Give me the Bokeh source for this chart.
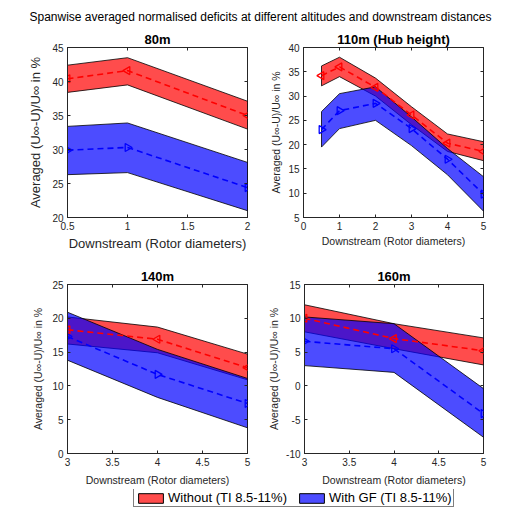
import math
from bokeh.plotting import figure
from bokeh.layouts import column, row
from bokeh.models import (Range1d, FixedTicker, NumeralTickFormatter, Legend, LegendItem,
                          LinearAxis, CustomJSTickFormatter)
from bokeh.core.properties import value
from bokeh.embed import file_html
from bokeh.resources import INLINE

FONT = "Liberation Sans"
AX = "#262626"

main_title = "Spanwise averaged normalised deficits at different altitudes and downstream distances"
x_label = "Downstream (Rotor diameters)"
y_label = "Averaged (U\u221e-U)/U\u221e in %"
legend_labels = ["Without (TI 8.5-11%)", "With GF (TI 8.5-11%)"]

# 80m
x_80 = [0.5, 1.0, 2.0]
red_mean_80 = [40.4, 41.6, 35.0]
red_up_80 = [42.4, 43.5, 37.1]
red_lo_80 = [38.4, 39.5, 33.0]
blue_mean_80 = [29.9, 30.3, 24.4]
blue_up_80 = [33.4, 33.9, 28.1]
blue_lo_80 = [26.3, 26.6, 21.0]

# 110m (hub height)
x_110 = [0.5, 1.0, 2.0, 3.0, 4.0, 5.0]
red_mean_110 = [34.2, 36.0, 31.8, 26.1, 20.3, 18.6]
red_up_110 = [36.2, 38.0, 33.7, 27.8, 22.2, 20.6]
red_lo_110 = [32.1, 34.0, 30.0, 24.1, 18.6, 16.7]
blue_mean_110 = [23.1, 27.0, 28.5, 23.3, 17.0, 9.8]
blue_up_110 = [26.8, 30.5, 31.9, 25.7, 19.2, 13.4]
blue_lo_110 = [19.5, 23.3, 25.0, 19.8, 13.8, 6.3]

# 140m
x_140 = [3.0, 4.0, 5.0]
red_mean_140 = [18.3, 16.9, 12.7]
red_up_140 = [20.2, 18.7, 14.7]
red_lo_140 = [16.2, 14.9, 10.9]
blue_mean_140 = [17.3, 11.7, 7.4]
blue_up_140 = [20.9, 15.4, 11.1]
blue_lo_140 = [13.8, 8.3, 3.8]

# 160m
x_160 = [3.0, 4.0, 5.0]
red_mean_160 = [10.0, 7.0, 5.2]
red_up_160 = [12.0, 9.2, 7.1]
red_lo_160 = [8.0, 5.5, 3.1]
blue_mean_160 = [6.6, 5.5, -4.1]
blue_up_160 = [10.2, 9.2, -0.4]
blue_lo_160 = [3.0, 2.0, -7.6]

ticks_80_x = [0.5, 1, 1.5, 2]
ticks_80_y = [20, 25, 30, 35, 40, 45]
ticks_110_x = [0, 1, 2, 3, 4, 5]
ticks_110_y = [5, 10, 15, 20, 25, 30, 35, 40]
ticks_140_x = [3, 3.5, 4, 4.5, 5]
ticks_140_y = [0, 5, 10, 15, 20, 25]
ticks_160_x = [3, 3.5, 4, 4.5, 5]
ticks_160_y = [-10, -5, 0, 5, 10, 15]


def style_axis(ax, lab_size):
    ax.major_tick_in = 3
    ax.major_tick_out = 0
    ax.minor_tick_in = 0
    ax.minor_tick_out = 0
    ax.axis_line_color = AX
    ax.major_tick_line_color = AX
    ax.major_label_text_font = FONT
    ax.major_label_text_font_size = "10px"
    ax.major_label_text_color = AX
    ax.axis_label_text_font = FONT
    ax.axis_label_text_font_style = "normal"
    ax.axis_label_text_font_size = lab_size
    ax.axis_label_text_color = AX
    ax.formatter = NumeralTickFormatter(format="0.[0]")


def mirror_axis(p, ticks, place):
    ax = LinearAxis(ticker=FixedTicker(ticks=ticks),
                    formatter=CustomJSTickFormatter(code="return ''"))
    ax.major_tick_in = 3
    ax.major_tick_out = 0
    ax.minor_tick_in = 0
    ax.minor_tick_out = 0
    ax.axis_line_color = None
    ax.major_tick_line_color = AX
    ax.major_label_standoff = 0
    ax.major_label_text_font_size = "1px"
    ax.axis_label = None
    p.add_layout(ax, place)


def panel(title, x, rm, ru, rl, bm, bu, bl, xlim, ylim, xt, yt, w, h,
          bleft, bright, btop, bbot, lab_size, xls, yls):
    p = figure(width=w, height=h, x_range=Range1d(*xlim), y_range=Range1d(*ylim),
               output_backend="svg", toolbar_location=None, title=title,
               min_border_left=bleft, min_border_right=bright,
               min_border_top=btop, min_border_bottom=bbot)
    p.title.align = "center"
    p.title.text_font = FONT
    p.title.text_font_size = "13px"
    p.title.text_font_style = "bold"
    p.title.text_color = "black"
    p.title.standoff = 1
    p.xgrid.visible = False
    p.ygrid.visible = False
    p.outline_line_color = AX
    p.outline_line_width = 1
    p.outline_line_alpha = 1
    style_axis(p.xaxis[0], lab_size)
    style_axis(p.yaxis[0], lab_size)
    p.xaxis[0].ticker = FixedTicker(ticks=xt)
    p.yaxis[0].ticker = FixedTicker(ticks=yt)
    p.xaxis[0].axis_label = x_label
    p.yaxis[0].axis_label = y_label
    p.xaxis[0].major_label_standoff = 4
    p.yaxis[0].major_label_standoff = 4
    p.xaxis[0].axis_label_standoff = xls
    p.yaxis[0].axis_label_standoff = yls
    mirror_axis(p, xt, "above")
    mirror_axis(p, yt, "right")

    p.patch(x + x[::-1], ru + rl[::-1], fill_color="#FF0000", fill_alpha=0.7,
            line_color="black", line_width=0.8)
    p.patch(x + x[::-1], bu + bl[::-1], fill_color="#0000FF", fill_alpha=0.7,
            line_color="black", line_width=0.8)
    p.line(x, rm, line_color="#FF0000", line_dash="6 4", line_width=1.6)
    p.scatter(x, rm, marker="triangle", angle=math.pi / 2, size=8,
              fill_alpha=0, line_color="#FF0000", line_width=1.3)
    p.line(x, bm, line_color="#0000FF", line_dash="6 4", line_width=1.6)
    p.scatter(x, bm, marker="triangle", angle=-math.pi / 2, size=8,
              fill_alpha=0, line_color="#0000FF", line_width=1.3)
    return p


# title strip
tf = figure(width=520, height=28, x_range=Range1d(0, 1), y_range=Range1d(0, 28),
            output_backend="svg", toolbar_location=None, min_border=0)
tf.axis.visible = False
tf.grid.visible = False
tf.outline_line_color = None
tf.text(x=[0.5], y=[12], text=[main_title], text_align="center", text_baseline="middle",
        text_font=value(FONT), text_font_size="12px", text_color="black")

p1 = panel("80m", x_80, red_mean_80, red_up_80, red_lo_80, blue_mean_80, blue_up_80, blue_lo_80,
           (0.5, 2), (20, 45), ticks_80_x, ticks_80_y, 260, 232, 67, 13, 19, 43, "13px", 3, 6)
p2 = panel("110m (Hub height)", x_110, red_mean_110, red_up_110, red_lo_110, blue_mean_110,
           blue_up_110, blue_lo_110, (0, 5), (5, 40), ticks_110_x, ticks_110_y,
           260, 232, 43, 37, 19, 43, "10.5px", 2, 3)
p3 = panel("140m", x_140, red_mean_140, red_up_140, red_lo_140, blue_mean_140, blue_up_140,
           blue_lo_140, (3, 5), (0, 25), ticks_140_x, ticks_140_y,
           260, 229, 67, 13, 24, 36, "10.5px", 5, 5)
p4 = panel("160m", x_160, red_mean_160, red_up_160, red_lo_160, blue_mean_160, blue_up_160,
           blue_lo_160, (3, 5), (-10, 15), ticks_160_x, ticks_160_y,
           260, 229, 44, 37, 24, 36, "10.5px", 5, 3)

# legend strip (dummy patches lie outside the visible range; only their legend swatches show)
lf = figure(width=520, height=19, x_range=Range1d(0, 1), y_range=Range1d(0, 1),
            output_backend="svg", toolbar_location=None, min_border=0)
lf.axis.visible = False
lf.grid.visible = False
lf.outline_line_color = None
r_red = lf.patch([5, 6, 6], [5, 5, 6], fill_color="#FF0000", fill_alpha=0.7,
                 line_color="black", line_width=1)
r_blue = lf.patch([5, 6, 6], [5, 5, 6], fill_color="#0000FF", fill_alpha=0.7,
                  line_color="black", line_width=1)
leg = Legend(items=[LegendItem(label=legend_labels[0], renderers=[r_red]),
                    LegendItem(label=legend_labels[1], renderers=[r_blue])],
             orientation="horizontal", location=(133, 1))
leg.glyph_width = 31
leg.glyph_height = 12
leg.label_height = 12
leg.label_standoff = 2
leg.spacing = 9
leg.padding = 1
leg.margin = 0
leg.label_text_font = FONT
leg.label_text_font_size = "13px"
leg.label_text_color = "black"
leg.label_text_baseline = "middle"
leg.border_line_color = "black"
leg.border_line_width = 1
leg.background_fill_color = "white"
leg.background_fill_alpha = 1
lf.add_layout(leg)

layout = column(tf, row(p1, p2), row(p3, p4), lf)
open("out.html", "w").write(file_html(layout, INLINE))
